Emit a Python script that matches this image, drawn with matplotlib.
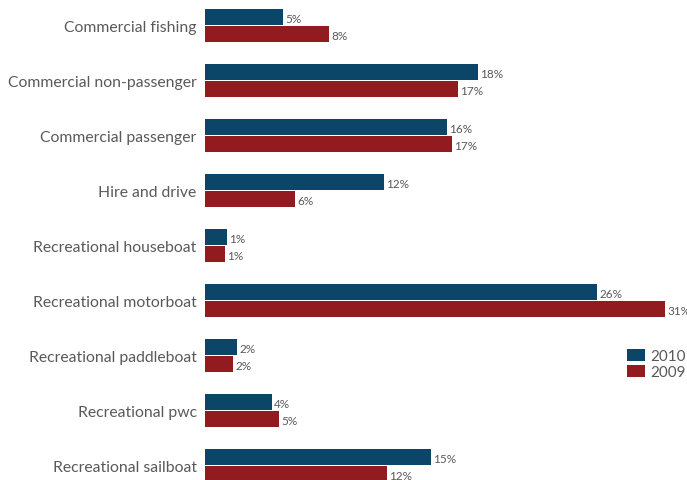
import matplotlib.pyplot as plt
import numpy as np

categories = ["Commercial fishing", "Commercial non-passenger", "Commercial passenger",
              "Hire and drive", "Recreational houseboat", "Recreational motorboat",
              "Recreational paddleboat", "Recreational pwc", "Recreational sailboat"]

# bar lengths (percent)
share_2010 = [5.25, 18.4, 16.3, 12.05, 1.48, 26.4, 2.15, 4.5, 15.2]
share_2009 = [8.35, 17.05, 16.6, 6.06, 1.35, 31.0, 1.9, 5.0, 12.25]
# printed labels
label_2010 = [5, 18, 16, 12, 1, 26, 2, 4, 15]
label_2009 = [8, 17, 17, 6, 1, 31, 2, 5, 12]

blue = "#0b4568"
red = "#921b20"
grey = "#595959"

plt.rcParams['font.family'] = ['Lato', 'DejaVu Sans']

fig = plt.figure(figsize=(6.87, 4.81), dpi=100)
ax = fig.add_axes([205 / 687, 0, 482 / 687, 1])

y = np.arange(len(categories))
h = 0.29
off = 0.155
ax.barh(y - off, share_2010, height=h, color=blue, label="2010")
ax.barh(y + off, share_2009, height=h, color=red, label="2009")

for yy, v, lab in zip(y, share_2010, label_2010):
    ax.text(v + 0.15, yy - off + 0.03, "%d%%" % lab, va="center", ha="left",
            fontsize=8.5, color=grey)
for yy, v, lab in zip(y, share_2009, label_2009):
    ax.text(v + 0.15, yy + off + 0.03, "%d%%" % lab, va="center", ha="left",
            fontsize=8.5, color=grey)

ax.set_xlim(0, 482 / 14.85)
ax.set_ylim(8.2636, -0.4818)
ax.set_yticks(y)
ax.set_yticklabels(categories, fontsize=11.3, color=grey)
ax.tick_params(axis="y", length=0, pad=6)
ax.set_xticks([])
for s in ax.spines.values():
    s.set_visible(False)

leg = ax.legend(loc="upper left", bbox_to_anchor=(422 / 482, 1 - 350 / 481),
                frameon=False, fontsize=11, handlelength=1.2, handleheight=0.85,
                handletextpad=0.3, labelspacing=0.1, borderaxespad=0,
                borderpad=0)
for t in leg.get_texts():
    t.set_color(grey)

fig.savefig("out.png", dpi=100)
